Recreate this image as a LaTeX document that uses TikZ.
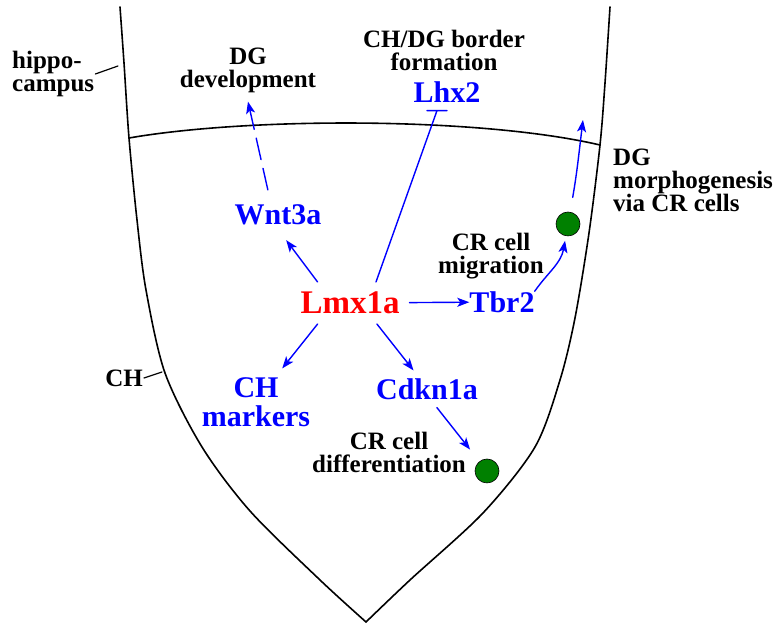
\documentclass[tikz,border=0pt]{standalone}
\usepackage{fontspec}
\setmainfont{Liberation Serif}
\usetikzlibrary{arrows.meta}
\newcommand\lblfont{\bfseries\fontsize{25}{23}\selectfont}
\newcommand\genefont{\bfseries\fontsize{30}{29}\selectfont}
\newcommand\lmxfont{\bfseries\fontsize{33}{33}\selectfont}
\definecolor{crgreen}{RGB}{0,128,0}
\tikzset{
  wall/.style={line width=1.6pt},
  tick/.style={line width=1.2pt},
  lbl/.style={font=\lblfont,align=center,inner sep=1pt},
  gene/.style={font=\genefont,text=blue,align=center,inner sep=0pt},
  act/.style={draw=blue,line width=1.4pt,-{Stealth[length=12pt,width=9pt,inset=3pt]}},
  crcell/.style={circle,draw=black,line width=0.6pt,fill=crgreen,minimum size=24pt,inner sep=0pt},
}
\begin{document}
\begin{tikzpicture}[x=1pt,y=1pt,line cap=round,line join=round]
  \useasboundingbox (0,0) rectangle (780,623);
  \draw[wall] plot[smooth] coordinates {(120,616) (124,560) (129,485) (137,403) (146,333) (165,250) (202,176) (250,112) (320,43) (366,1)};
  \draw[wall] plot[smooth] coordinates {(610,616) (605,540) (600,478) (589,390) (575,305) (560,243) (535,176) (483,110) (410,43) (366,1)};
  \draw[wall] (129,485) .. controls (250,506) and (480,506) .. (600,478);
  \node[lbl,align=left,anchor=west] (hippo) at (11,549) {hippo-\\campus};
  \node[lbl] (dgdev) at (248,553) {DG\\development};
  \node[lbl] (border) at (444,573) {CH/DG border\\formation};
  \node[lbl,align=left,anchor=west] (dgmorph) at (612,443) {DG\\morphogenesis\\via CR cells};
  \node[lbl] (migr) at (491,367) {CR cell\\migration};
  \node[lbl] (diff) at (389,171) {CR cell\\differentiation};
  \node[lbl] (chl) at (124,245) {CH};
  \node[gene,text=red,font=\lmxfont,outer sep=10pt] (lmx) at (350,320) {Lmx1a};
  \node[gene,outer sep=15pt] (wnt) at (278,408) {Wnt3a};
  \node[gene] (lhx) at (447,531) {Lhx2};
  \node[gene] (tbr) at (502,321) {Tbr2};
  \node[gene,outer sep=9pt] (chm) at (256,221) {CH\\markers};
  \node[gene,outer sep=8pt] (cdkn) at (427,234) {Cdkn1a};
  \node[crcell,outer sep=5pt] (dot1) at (568,399) {};
  \node[crcell] (dot2) at (487,152) {};
  \coordinate (hp) at (118,557);
  \coordinate (chp) at (162,251);
  \coordinate (dgtip) at (583,503);
  \draw[tick] (hippo.east) -- (hp);
  \draw[tick] (chl.east) -- (chp);
  \draw[act] (lmx.147) -- (wnt.-72);
  \draw[act,dash pattern=on 22pt off 9pt] (wnt.112) -- ([yshift=-8pt]dgdev.south);
  \draw[blue,line width=1.4pt] (lmx.39) -- ([xshift=-10pt,yshift=-8pt]lhx.south) ++(-10pt,0) -- ++(20pt,0);
  \draw[act] (lmx) -- (tbr);
  \draw[act] (lmx.-147) -- (chm.52);
  \draw[act] (lmx.-38) -- (cdkn.126);
  \draw[act,shorten >=15pt] (cdkn.-62) -- (dot2);
  \draw[act] (tbr.north east) to[out=55,in=-100] (dot1.-100);
  \draw[act,shorten <=10pt] (dot1.80) to[out=80,in=-97] (dgtip);
\end{tikzpicture}
\end{document}
